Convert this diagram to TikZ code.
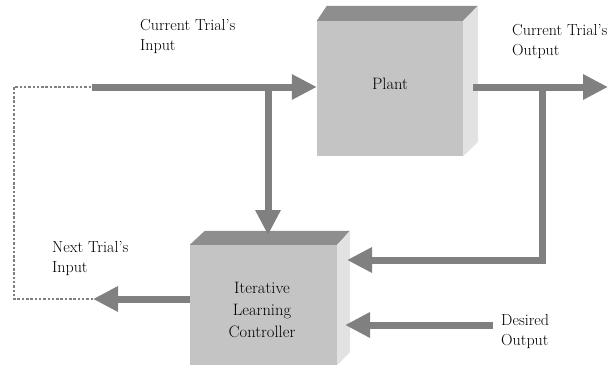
\documentclass[tikz,border=0pt]{standalone}
\usetikzlibrary{arrows.meta}
\definecolor{arr}{HTML}{808080}
\definecolor{topf}{HTML}{8E8E8E}
\definecolor{frontf}{HTML}{C4C4C4}
\definecolor{sidef}{HTML}{E2E2E2}
\newcommand{\apos}{\char39\relax}
\begin{document}
\begin{tikzpicture}[x=1pt,y=-1pt,
  box/.style={draw=none,fill=frontf,inner sep=0pt},
  boxtext/.style={align=center,inner sep=0pt,font=\rmfamily\fontsize{16.5}{22}\selectfont},
  lbl/.style={anchor=base west,inner sep=0pt,align=left,font=\rmfamily\fontsize{16}{19.5}\selectfont},
  flow/.style={draw=arr,line width=7pt,-{Triangle[length=25pt,width=24pt]}},
  plain/.style={draw=arr,line width=7pt},
  dots/.style={draw=arr,line width=2.5pt,dash pattern=on 2.5pt off 1.8pt}]
\useasboundingbox (0,0) rectangle (610,367);
% Plant
\node[box,minimum width=146pt,minimum height=135pt] (plant) at (390,88.5) {};
\fill[topf] (plant.north west) -- ++(10,-15) -- ++(151,0) -- (plant.north east) -- cycle;
\fill[sidef] (plant.north east) -- ++(15,-15) -- ++(0,136) -- (plant.south east) -- cycle;
\node[boxtext] (plantt) at (390,84) {Plant};
% ILC
\node[box,minimum width=147pt,minimum height=120pt] (ilc) at (263.5,305) {};
\fill[topf] (ilc.north west) -- ++(15,-14) -- ++(145,0) -- (ilc.north east) -- cycle;
\fill[sidef] (ilc.north east) -- ++(13,-14) -- ++(0,121) -- (ilc.south east) -- cycle;
\node[boxtext] (ilct) at (262,310) {Iterative\\Learning\\Controller};
% coordinates
\coordinate (in0) at (92,87);
\coordinate (j1) at (268,87);
\coordinate (out0) at (473,87);
\coordinate (j2) at (542,87);
\coordinate (outend) at (608,87);
\coordinate (fb) at (347,260);
\coordinate (des0) at (493,325);
\coordinate (desend) at (345,325);
\coordinate (nx) at (93,299);
\coordinate (dl) at (14,299);
\coordinate (ul) at (14,87);
% arrows
\draw[flow] (in0) -- (plant.west |- in0);
\draw[flow] (j1) -- (268,235);
\draw[plain] (out0) -- (j2);
\draw[flow] (j2) -- (outend);
\draw[flow] (j2) |- (fb);
\draw[flow] (des0) -- (desend);
\draw[flow] (ilc.west |- nx) -- (nx);
\draw[dots] (nx) -- (dl) -- (ul) -- (in0);
% labels
\node[lbl] (l1) at (140,50) {Current Trial\apos s\\Input};
\node[lbl] (l2) at (512,55) {Current Trial\apos s\\Output};
\node[lbl] (l3) at (52,272) {Next Trial\apos s\\Input};
\node[lbl] (l4) at (501,345) {Desired\\Output};
\end{tikzpicture}
\end{document}
